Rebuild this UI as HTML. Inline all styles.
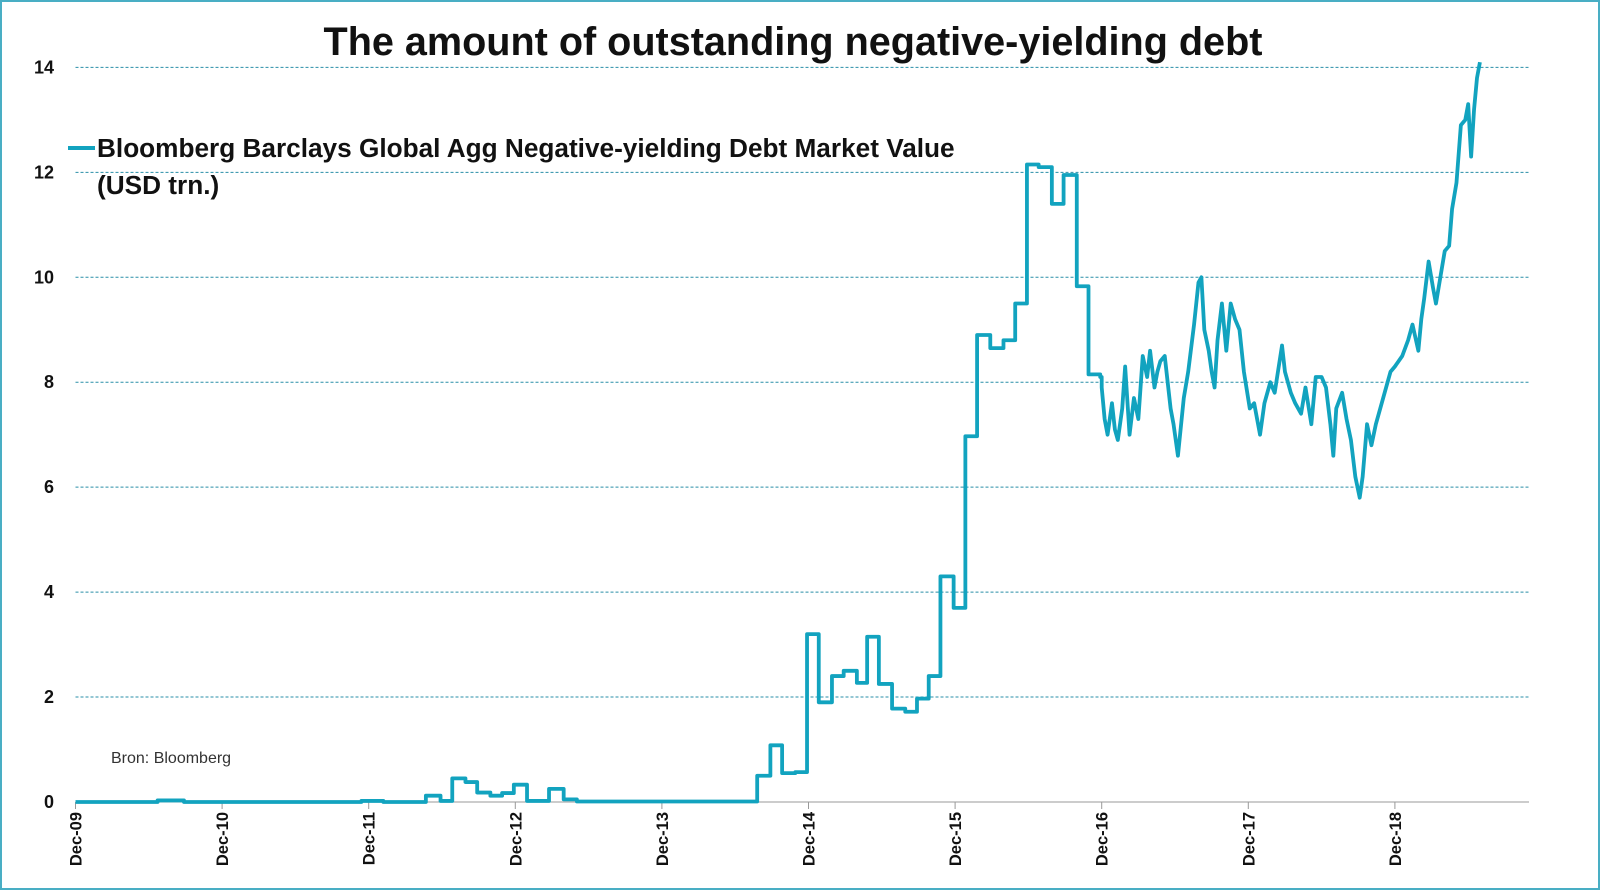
<!DOCTYPE html>
<html><head><meta charset="utf-8"><style>
body{margin:0;background:#fff;}
#wrap{position:relative;width:1600px;height:890px;overflow:hidden;}
svg text{font-family:"Liberation Sans",sans-serif;}
</style></head><body>
<div id="wrap">
<svg id="chart" width="1600" height="890">
<rect x="1" y="1" width="1598" height="888" fill="#fff" stroke="#49aec4" stroke-width="2"/>
<text x="793" y="55" text-anchor="middle" font-size="39.6" font-weight="bold" fill="#111">The amount of outstanding negative-yielding debt</text>
<g id="grid"></g><g id="yaxis"></g><g id="xaxis"></g><g id="series"></g>
<line x1="68" y1="148" x2="95" y2="148" stroke="#12a3bf" stroke-width="4"/>
<text x="97" y="157" font-size="26.2" font-weight="bold" fill="#111">Bloomberg Barclays Global Agg Negative-yielding Debt Market Value</text>
<text x="97" y="194" font-size="26.2" font-weight="bold" fill="#111">(USD trn.)</text>
<text x="111" y="763" font-size="16" fill="#333">Bron: Bloomberg</text>
</svg></div>
<script>
const yTicks=[0,2,4,6,8,10,12,14];
const xTickLabels=["Dec-09","Dec-10","Dec-11","Dec-12","Dec-13","Dec-14","Dec-15","Dec-16","Dec-17","Dec-18"];
const yearsSinceDec09=[0,0.56,0.74,1.95,2.10,2.39,2.49,2.57,2.66,2.74,2.83,2.91,2.99,3.08,3.23,3.33,3.42,4.65,4.74,4.82,4.91,4.99,5.07,5.16,5.24,5.33,5.40,5.48,5.57,5.66,5.74,5.82,5.90,5.99,6.07,6.15,6.24,6.33,6.41,6.49,6.57,6.66,6.74,6.83,6.91,6.99,
7.00,7.02,7.04,7.07,7.09,7.11,7.14,7.16,7.19,7.22,7.25,7.28,7.31,7.33,7.36,7.38,7.40,7.43,7.45,7.47,7.49,7.52,7.56,7.59,7.63,7.66,7.68,7.70,7.73,7.75,7.77,7.79,7.82,7.85,7.88,7.91,7.94,7.97,8.01,8.04,8.08,8.11,8.15,8.18,8.23,8.25,8.29,8.32,8.36,8.39,8.43,8.46,8.50,8.53,8.56,8.58,8.60,8.64,8.67,8.70,8.73,8.76,8.78,8.81,8.84,8.87,8.90,8.94,8.97,9.00,9.05,9.09,9.12,9.16,9.18,9.20,9.23,9.26,9.28,9.31,9.34,9.37,9.39,9.42,9.45,9.48,9.50,9.52,9.54,9.56,9.58];
const debtValues=[0,0.03,0,0.02,0,0.12,0.02,0.45,0.38,0.18,0.12,0.17,0.33,0.02,0.25,0.05,0.01,0.5,1.08,0.55,0.57,3.2,1.9,2.4,2.5,2.27,3.15,2.25,1.78,1.72,1.97,2.4,4.3,3.7,6.97,8.9,8.65,8.8,9.5,12.15,12.1,11.4,11.95,9.83,8.15,8.1,
7.9,7.3,7.0,7.6,7.1,6.9,7.5,8.3,7.0,7.7,7.3,8.5,8.1,8.6,7.9,8.2,8.4,8.5,8.0,7.5,7.2,6.6,7.7,8.2,9.1,9.9,10.0,9.0,8.6,8.2,7.9,8.8,9.5,8.6,9.5,9.2,9.0,8.2,7.5,7.6,7.0,7.6,8.0,7.8,8.7,8.2,7.8,7.6,7.4,7.9,7.2,8.1,8.1,7.9,7.2,6.6,7.5,7.8,7.3,6.9,6.2,5.8,6.2,7.2,6.8,7.2,7.5,7.9,8.2,8.3,8.5,8.8,9.1,8.6,9.2,9.6,10.3,9.8,9.5,10.0,10.5,10.6,11.3,11.8,12.9,13.0,13.3,12.3,13.2,13.8,14.1];
const stepUntil=7.0;
const NS="http://www.w3.org/2000/svg";
const X0=75.5,XW=146.6,Y0=802,YU=52.47,XR=1529;
function xS(t){return X0+t*XW;}
function yS(v){return Y0-v*YU;}
function mk(tag,attrs,parent){const e=document.createElementNS(NS,tag);for(const k in attrs)e.setAttribute(k,attrs[k]);parent.appendChild(e);return e;}
const grid=document.getElementById('grid'),ya=document.getElementById('yaxis'),xa=document.getElementById('xaxis'),se=document.getElementById('series');
yTicks.forEach(v=>{
  if(v>0){const g=mk('line',{x1:X0,x2:XR,y1:yS(v),y2:yS(v),stroke:'#2a8fa8','stroke-width':1,'stroke-dasharray':'3,2'},grid);
  
  }
  const t=mk('text',{x:54,y:yS(v)+6,'text-anchor':'end','font-size':18,'font-weight':'bold',fill:'#111'},ya);t.textContent=v;
  
  
});
const ax=mk('line',{x1:X0,x2:XR,y1:Y0,y2:Y0,stroke:'#999','stroke-width':1},xa);


xTickLabels.forEach((lab,i)=>{
  const x=xS(i);
  const tk=mk('line',{x1:x,x2:x,y1:Y0,y2:Y0+7,stroke:'#999'},xa);
  
  
  const t=mk('text',{x:0,y:0,'text-anchor':'end','font-size':16.5,'font-weight':'bold',fill:'#111',transform:`translate(${x+6},${Y0+10}) rotate(-90)`},xa);
  t.textContent=lab;
  
  
});
let d='';
for(let i=0;i<yearsSinceDec09.length;i++){
  const x=xS(yearsSinceDec09[i]),y=yS(debtValues[i]);
  if(i===0){d+=`M${x},${y}`;continue;}
  if(yearsSinceDec09[i]<=stepUntil) d+=` H${x} V${y}`; else d+=` L${x},${y}`;
}
const p=mk('path',{d:d,fill:'none',stroke:'#12a3bf','stroke-width':3.8,'stroke-linejoin':'round'},se);


</script>
</body></html>
